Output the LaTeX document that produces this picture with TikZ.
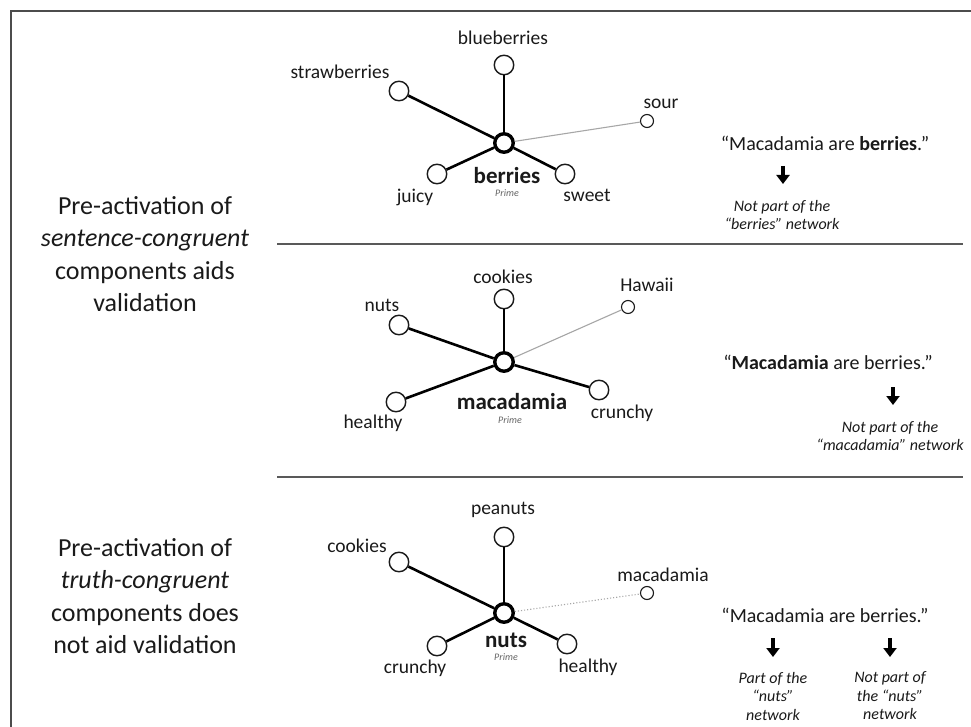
\documentclass[tikz,border=0pt]{standalone}
\usepackage{fontspec}
\setmainfont{Carlito}
\usetikzlibrary{arrows.meta}
\definecolor{ink}{HTML}{1A1A1A}
\begin{document}
\begin{tikzpicture}[x=1pt,y=-1pt,
  leaf/.style={circle,draw=ink,line width=1.4pt,minimum size=19.5pt,inner sep=0pt},
  hub/.style={circle,draw=black,line width=3.4pt,minimum size=18.5pt,inner sep=0pt},
  far/.style={circle,draw=ink,line width=1.1pt,minimum size=13pt,inner sep=0pt},
  strong/.style={line width=2.6pt,draw=black},
  weak/.style={line width=1.1pt,draw=gray!70},
  weakdot/.style={line width=1.1pt,draw=gray!70,dotted},
  lbl/.style={font=\fontsize{19.5}{23}\selectfont,text=ink,inner sep=0pt},
  hublbl/.style={font=\fontsize{23}{27}\selectfont\bfseries,text=ink,inner sep=0pt},
  prime/.style={font=\fontsize{10}{12}\selectfont\itshape,text=gray!80!black,inner sep=0pt},
  side/.style={font=\fontsize{26}{32.5}\selectfont,text=ink,align=center,inner sep=0pt},
  quote/.style={font=\fontsize{20}{24}\selectfont,text=ink,inner sep=0pt},
  note/.style={font=\fontsize{16}{18.5}\selectfont\itshape,text=ink,align=center,inner sep=0pt},
  down/.style={-{Triangle[width=13pt,length=9pt]},line width=3.5pt,draw=black},
  frame/.style={line width=1.2pt,draw=gray!60!black},
  sep/.style={line width=1.5pt,draw=gray!70!black}
]
\useasboundingbox (0,0) rectangle (971,727);
\fill[white] (0,0) rectangle (971,727);

% frame and separators
\draw[frame] (11,727) -- (11,11) -- (971,11);
\draw[sep] (277,244) -- (963,244);
\draw[sep] (277,477) -- (963,477);

% left texts
\node[side] (s1) at (145,254) {Pre-activation of\\\textit{sentence-congruent}\\components aids\\validation};
\node[side] (s2) at (145,596) {Pre-activation of\\\textit{truth-congruent}\\components does\\not aid validation};

% ---------- network 1: berries ----------
\node[hub] (b0) at (504,143) {};
\node[leaf] (b1) at (504,65) {};
\node[leaf] (b2) at (399,91) {};
\node[leaf] (b3) at (437,174) {};
\node[leaf] (b4) at (565,174) {};
\node[far] (b5) at (647,121) {};
\draw[strong] (b0) -- (b1);
\draw[strong] (b0) -- (b2);
\draw[strong] (b0) -- (b3);
\draw[strong] (b0) -- (b4);
\draw[weak] (b0) -- (b5);
\node[lbl] (bl1) at (503,38) {blueberries};
\node[lbl] (bl2) at (340,72) {strawberries};
\node[lbl] (bl3) at (415,197) {juicy};
\node[lbl] (bl4) at (587,195) {sweet};
\node[lbl] (bl5) at (661,104) {sour};
\node[hublbl] (bl0) at (507,176) {berries};
\node[prime] (bp) at (507,193) {Prime};

% ---------- network 2: macadamia ----------
\node[hub] (m0) at (504,362) {};
\node[leaf] (m1) at (504,299) {};
\node[leaf] (m2) at (399,325) {};
\node[leaf] (m3) at (396,402) {};
\node[leaf] (m4) at (599,390) {};
\node[far] (m5) at (628,307) {};
\draw[strong] (m0) -- (m1);
\draw[strong] (m0) -- (m2);
\draw[strong] (m0) -- (m3);
\draw[strong] (m0) -- (m4);
\draw[weak] (m0) -- (m5);
\node[lbl] (ml1) at (503,277) {cookies};
\node[lbl] (ml2) at (382,305) {nuts};
\node[lbl] (ml3) at (373,423) {healthy};
\node[lbl] (ml4) at (622,413) {crunchy};
\node[lbl] (ml5) at (647,285) {Hawaii};
\node[hublbl] (ml0) at (512,402) {macadamia};
\node[prime] (mp) at (510,420) {Prime};

% ---------- network 3: nuts ----------
\node[hub] (n0) at (504,613) {};
\node[leaf] (n1) at (504,537) {};
\node[leaf] (n2) at (399,562) {};
\node[leaf] (n3) at (437,646) {};
\node[leaf] (n4) at (567,644) {};
\node[far] (n5) at (647,593) {};
\draw[strong] (n0) -- (n1);
\draw[strong] (n0) -- (n2);
\draw[strong] (n0) -- (n3);
\draw[strong] (n0) -- (n4);
\draw[weakdot] (n0) -- (n5);
\node[lbl] (nl1) at (503,510) {peanuts};
\node[lbl] (nl2) at (357,546) {cookies};
\node[lbl] (nl3) at (415,668) {crunchy};
\node[lbl] (nl4) at (588,667) {healthy};
\node[lbl] (nl5) at (663,575) {macadamia};
\node[hublbl] (nl0) at (506,640) {nuts};
\node[prime] (np) at (506,657) {Prime};

% ---------- right side ----------
\node[quote] (q1) at (825,143) {“Macadamia are \textbf{berries}.”};
\coordinate (a1s) at (783,166);
\coordinate (a1e) at (783,184);
\draw[down] (a1s) -- (a1e);
\node[note] (t1) at (782,215) {Not part of the\\“berries” network};

\node[quote] (q2) at (828,362) {“\textbf{Macadamia} are berries.”};
\coordinate (a2s) at (893,387);
\coordinate (a2e) at (893,405);
\draw[down] (a2s) -- (a2e);
\node[note] (t2) at (890,436) {Not part of the\\“macadamia” network};

\node[quote] (q3) at (825,615) {“Macadamia are berries.”};
\coordinate (a3s) at (773,638);
\coordinate (a3e) at (773,657);
\draw[down] (a3s) -- (a3e);
\coordinate (a4s) at (890,638);
\coordinate (a4e) at (890,657);
\draw[down] (a4s) -- (a4e);
\node[note] (t3) at (773,696) {Part of the\\“nuts”\\network};
\node[note] (t4) at (890,696) {Not part of\\the “nuts”\\network};
\end{tikzpicture}
\end{document}
